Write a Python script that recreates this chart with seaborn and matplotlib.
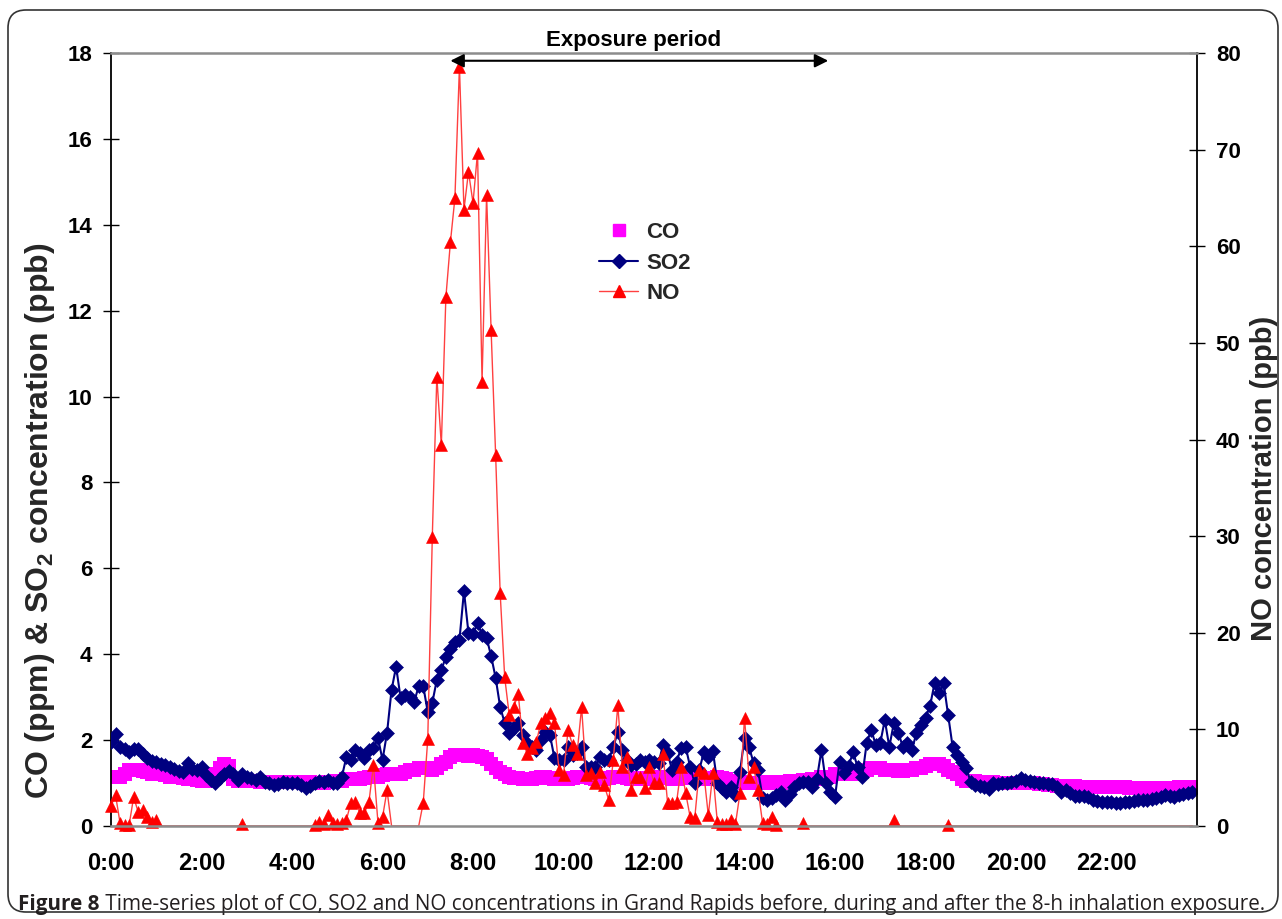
import numpy as np
import pandas as pd
import matplotlib
matplotlib.use("Agg")
import matplotlib.pyplot as plt
import seaborn as sns
from matplotlib.lines import Line2D
from matplotlib.patches import FancyBboxPatch
from matplotlib.transforms import IdentityTransform

sns.set_theme(style="white")
plt.rcParams["font.family"] = ["Liberation Sans", "DejaVu Sans"]
plt.rcParams["mathtext.fontset"] = "custom"
plt.rcParams["mathtext.rm"] = "Liberation Sans"
plt.rcParams["mathtext.bf"] = "Liberation Sans:bold"

# ---- data: one row of 10 readings (6-min steps) per hour ----
co = [
    1.15, 1.15, 1.15, 1.20, 1.30, 1.30, 1.30, 1.28, 1.25, 1.22,
    1.20, 1.20, 1.18, 1.15, 1.15, 1.13, 1.12, 1.10, 1.10, 1.08,
    1.05, 1.05, 1.10, 1.20, 1.35, 1.45, 1.40, 1.10, 1.05, 1.05,
    1.05, 1.05, 1.05, 1.02, 1.02, 1.02, 1.03, 1.03, 1.03, 1.03,
    1.03, 1.03, 1.03, 1.02, 1.02, 1.00, 1.00, 1.00, 1.02, 1.02,
    1.05, 1.05, 1.10, 1.10, 1.10, 1.10, 1.12, 1.15, 1.15, 1.15,
    1.18, 1.20, 1.20, 1.20, 1.20, 1.25, 1.30, 1.30, 1.35, 1.35,
    1.35, 1.30, 1.35, 1.45, 1.50, 1.60, 1.65, 1.65, 1.65, 1.63,
    1.65, 1.63, 1.60, 1.55, 1.45, 1.35, 1.25, 1.20, 1.15, 1.12,
    1.12, 1.10, 1.10, 1.10, 1.12, 1.15, 1.15, 1.12, 1.10, 1.10,
    1.10, 1.10, 1.12, 1.15, 1.15, 1.15, 1.12, 1.10, 1.10, 1.10,
    1.12, 1.15, 1.15, 1.15, 1.12, 1.10, 1.12, 1.10, 1.10, 1.12,
    1.12, 1.15, 1.15, 1.12, 1.10, 1.10, 1.12, 1.15, 1.15, 1.12,
    1.12, 1.10, 1.10, 1.12, 1.15, 1.12, 1.10, 1.05, 1.05, 1.02,
    1.00, 1.00, 1.00, 1.00, 1.00, 1.02, 1.02, 1.00, 1.00, 1.02,
    1.05, 1.05, 1.05, 1.08, 1.08, 1.10, 1.10, 1.15, 1.15, 1.15,
    1.20, 1.20, 1.22, 1.20, 1.20, 1.20, 1.25, 1.30, 1.35, 1.35,
    1.35, 1.30, 1.30, 1.30, 1.28, 1.28, 1.30, 1.30, 1.35, 1.35,
    1.40, 1.45, 1.45, 1.45, 1.40, 1.30, 1.25, 1.20, 1.10, 1.05,
    1.05, 1.05, 1.02, 1.02, 1.02, 1.02, 1.00, 1.00, 1.00, 1.00,
    1.00, 1.00, 1.00, 1.00, 1.00, 0.98, 0.98, 0.95, 0.95, 0.93,
    0.93, 0.92, 0.92, 0.92, 0.90, 0.90, 0.90, 0.90, 0.90, 0.90,
    0.90, 0.90, 0.90, 0.90, 0.90, 0.88, 0.88, 0.88, 0.88, 0.88,
    0.88, 0.88, 0.88, 0.88, 0.88, 0.88, 0.90, 0.90, 0.90, 0.90,
]

so2 = [
    1.95, 2.15, 1.85, 1.79, 1.72, 1.80, 1.80, 1.68, 1.58, 1.52,
    1.50, 1.45, 1.42, 1.37, 1.32, 1.28, 1.26, 1.46, 1.33, 1.30,
    1.37, 1.19, 1.07, 1.00, 1.12, 1.22, 1.28, 1.20, 1.07, 1.22,
    1.14, 1.12, 1.07, 1.14, 1.02, 0.99, 0.95, 0.97, 1.02, 1.00,
    0.99, 0.99, 0.95, 0.88, 0.93, 0.99, 1.05, 1.02, 1.07, 1.00,
    0.99, 1.14, 1.60, 1.54, 1.77, 1.70, 1.58, 1.77, 1.82, 2.05,
    1.54, 2.17, 3.17, 3.71, 2.98, 3.05, 3.00, 2.89, 3.26, 3.26,
    2.65, 2.87, 3.40, 3.63, 3.94, 4.12, 4.28, 4.33, 5.47, 4.49,
    4.47, 4.73, 4.45, 4.38, 3.96, 3.45, 2.77, 2.40, 2.17, 2.28,
    2.40, 2.12, 1.93, 1.85, 1.77, 2.00, 2.19, 2.12, 1.58, 1.54,
    1.54, 1.84, 1.65, 1.70, 1.84, 1.37, 1.37, 1.37, 1.60, 1.54,
    1.54, 1.84, 2.19, 1.77, 1.54, 1.42, 1.45, 1.54, 1.50, 1.54,
    1.50, 1.47, 1.89, 1.70, 1.30, 1.50, 1.82, 1.84, 1.37, 1.00,
    1.30, 1.72, 1.60, 1.75, 1.00, 0.88, 0.79, 0.91, 0.72, 1.26,
    2.05, 1.84, 1.47, 1.30, 0.65, 0.60, 0.65, 0.72, 0.79, 0.60,
    0.75, 0.91, 1.00, 1.02, 1.02, 0.91, 1.10, 1.77, 1.00, 0.80,
    0.68, 1.49, 1.23, 1.40, 1.72, 1.37, 1.14, 1.93, 2.24, 1.89,
    1.93, 2.47, 1.84, 2.40, 2.17, 1.84, 1.93, 1.77, 2.17, 2.35,
    2.52, 2.79, 3.33, 3.10, 3.33, 2.58, 1.84, 1.65, 1.49, 1.35,
    1.02, 0.95, 0.93, 0.91, 0.86, 1.00, 0.97, 1.00, 1.00, 1.02,
    1.05, 1.12, 1.07, 1.04, 1.02, 1.00, 1.00, 0.98, 0.98, 0.90,
    0.79, 0.84, 0.76, 0.70, 0.70, 0.69, 0.67, 0.60, 0.58, 0.56,
    0.56, 0.55, 0.54, 0.54, 0.56, 0.56, 0.58, 0.60, 0.60, 0.60,
    0.63, 0.65, 0.68, 0.72, 0.70, 0.68, 0.72, 0.75, 0.77, 0.79,
]

no = [
    2.07, 3.20, 0.30, 0.10, 0.10, 3.00, 1.45, 1.65, 0.90, 0.40,
    0.60, 0, 0, 0, 0, 0, 0, 0, 0, 0,
    0, 0, 0, 0, 0, 0, 0, 0, 0, 0.20,
    0, 0, 0, 0, 0, 0, 0, 0, 0, 0,
    0, 0, 0, 0, 0, 0.10, 0.40, 0.20, 1.10, 0.30,
    0.20, 0.30, 0.60, 2.40, 2.50, 1.35, 1.35, 2.50, 6.30, 0.30,
    0.90, 3.70, 0, 0, 0, 0, 0, 0, 0, 2.40,
    9.0, 29.9, 46.5, 39.4, 54.7, 60.4, 65.0, 78.6, 63.8, 67.7,
    64.5, 69.7, 46.0, 65.3, 51.3, 38.4, 24.1, 15.4, 11.5, 12.3,
    13.7, 8.6, 7.5, 8.1, 8.7, 10.7, 11.2, 11.7, 10.7, 5.8,
    5.3, 9.9, 8.4, 7.5, 12.3, 5.3, 5.5, 4.5, 5.6, 4.2,
    2.7, 6.8, 12.5, 6.1, 7.1, 3.7, 5.1, 5.1, 3.9, 6.1,
    4.5, 4.5, 7.5, 2.4, 2.4, 2.5, 6.1, 3.4, 0.9, 0.8,
    5.8, 5.5, 1.1, 5.5, 0.4, 0.2, 0.2, 0.6, 0.2, 3.4,
    11.2, 5.1, 6.1, 3.7, 0.3, 0.2, 0.9, 0.1, 0, 0,
    0, 0, 0, 0.3, 0, 0, 0, 0, 0, 0,
    0, 0, 0, 0, 0, 0, 0, 0, 0, 0,
    0, 0, 0, 0.6, 0, 0, 0, 0, 0, 0,
    0, 0, 0, 0, 0, 0.15, 0, 0, 0, 0,
    0, 0, 0, 0, 0, 0, 0, 0, 0, 0,
    0, 0, 0, 0, 0, 0, 0, 0, 0, 0,
    0, 0, 0, 0, 0, 0, 0, 0, 0, 0,
    0, 0, 0, 0, 0, 0, 0, 0, 0, 0,
    0, 0, 0, 0, 0, 0, 0, 0, 0, 0,
]

tick_hours = [0, 2, 4, 6, 8, 10, 12, 14, 16, 18, 20, 22]
tick_labels = ["0:00", "2:00", "4:00", "6:00", "8:00", "10:00", "12:00",
               "14:00", "16:00", "18:00", "20:00", "22:00"]
exposure = [7.5, 15.85]
caption_head = "Figure 8"
caption_body = (" Time-series plot of CO, SO2 and NO concentrations in Grand Rapids "
                "before, during and after the 8-h inhalation exposure.")

df = pd.DataFrame({"hour": np.arange(len(so2)) / 10.0,
                   "CO": co, "SO2": so2, "NO": no})

fig = plt.figure(figsize=(12.82, 9.19), dpi=100)
ax = fig.add_axes([0.0866, 0.1012, 0.8471, 0.8411])
ax2 = ax.twinx()

# CO squares, SO2 line with diamonds on the left axis
sns.scatterplot(data=df, x="hour", y="CO", ax=ax, marker="s", s=95,
                color="#ff00ff", linewidth=0, zorder=2)
sns.lineplot(data=df, x="hour", y="SO2", ax=ax, color="#000080", lw=1.5,
             marker="D", markersize=7, markeredgecolor="#000080",
             markeredgewidth=0.4, estimator=None, zorder=3)

# NO on the right axis, markers only where there is a reading above zero
mask = (df["NO"] > 0).tolist()
sns.lineplot(data=df, x="hour", y="NO", ax=ax2, color="#ff4040", lw=1.0,
             marker="^", markersize=9, markerfacecolor="#ff0000",
             markeredgecolor="#ff0000", markeredgewidth=0.4,
             markevery=mask, estimator=None, clip_on=False)

ax.set_xlim(0, 24)
ax.set_ylim(0, 18)
ax2.set_ylim(0, 80)
ax.set_yticks(range(0, 19, 2))
ax2.set_yticks(range(0, 81, 10))
ax.set_xticks(tick_hours, tick_labels)
ax.set_xlabel("")
ax2.set_xlabel("")
ax.set_ylabel("")
ax2.set_ylabel("")

ax.tick_params(axis="y", direction="inout", length=11, width=1,
               colors="black", labelsize=16, pad=8, left=True)
ax2.tick_params(axis="y", direction="inout", length=11, width=1,
                colors="black", labelsize=16, pad=8, right=True)
ax.tick_params(axis="x", length=0, pad=19, labelsize=17, colors="black")
for lbl in ax.get_yticklabels() + ax2.get_yticklabels() + ax.get_xticklabels():
    lbl.set_fontweight("bold")

for s in ["top", "bottom", "right"]:
    ax.spines[s].set_visible(False)
ax.spines["left"].set_color("black")
ax.spines["left"].set_linewidth(1.3)
ax2.spines["left"].set_visible(False)
ax2.spines["right"].set_color("black")
ax2.spines["right"].set_linewidth(1.3)
for s in ["top", "bottom"]:
    ax2.spines[s].set_color("#8c8c8c")
    ax2.spines[s].set_linewidth(1.8)

# axis titles sit a bit below the middle, as in the original layout
fig.text(40 / 1282, 1 - 521 / 919, "CO (ppm) & SO$_\\mathbf{2}$ concentration (ppb)",
         rotation=90, ha="center", va="center", fontsize=23, fontweight="bold")
fig.text(1264 / 1282, 1 - 478 / 919, "NO concentration (ppb)",
         rotation=90, ha="center", va="center", fontsize=21, fontweight="bold")

# exposure period arrow
ax2.annotate("", xy=(exposure[0], 79.2), xytext=(exposure[1], 79.2),
             arrowprops=dict(arrowstyle="<|-|>", color="black", lw=1.5,
                             mutation_scale=20, shrinkA=0, shrinkB=0),
             annotation_clip=False, zorder=10)
ax2.text(11.55, 81.3, "Exposure period", ha="center", va="center",
         fontsize=16, fontweight="bold", color="black", clip_on=False)

handles = [
    Line2D([], [], ls="", marker="s", markersize=8, color="#ff00ff"),
    Line2D([], [], color="#000080", lw=1.5, marker="D", markersize=7),
    Line2D([], [], color="#ff4040", lw=1.0, marker="^", markersize=9,
           markerfacecolor="#ff0000", markeredgecolor="#ff0000"),
]
ax2.legend(handles, ["CO", "SO2", "NO"], loc="upper left",
           bbox_to_anchor=(0.452, 0.780), bbox_transform=fig.transFigure,
           frameon=False, prop={"weight": "bold", "size": 16},
           handlelength=1.75, labelspacing=0.42, handletextpad=0.35)

# rounded frame round the whole figure, and caption
frame = FancyBboxPatch((8, 7), 1270, 902, boxstyle="round,pad=0,rounding_size=18",
                       transform=IdentityTransform(), fill=False,
                       ec="#333333", lw=1.2)
fig.add_artist(frame)

t1 = fig.text(18 / 1282, 0.010, caption_head, fontsize=14.9, fontweight="bold",
              family=["Open Sans", "DejaVu Sans"], color="#231f20", va="baseline")
ax.annotate(caption_body, xy=(1, 0), xycoords=t1, ha="left", va="bottom",
            fontsize=14.9, family=["Open Sans", "DejaVu Sans"], color="#231f20",
            annotation_clip=False)

fig.savefig("out.png", dpi=100)
